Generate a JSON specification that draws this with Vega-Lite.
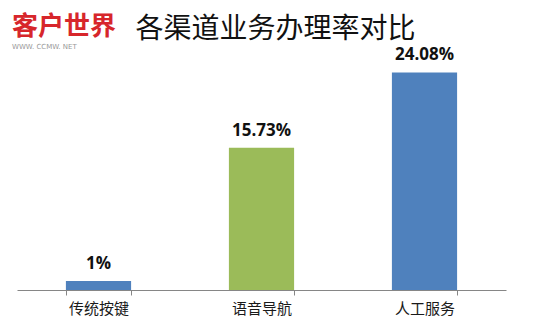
{
  "$schema": "https://vega.github.io/schema/vega-lite/v6.json",
  "width": 489,
  "height": 244,
  "autosize": "none",
  "padding": {"left": 17, "top": 46, "right": 54, "bottom": 42},
  "background": "white",
  "title": {
    "text": "客户世界",
    "subtitle": "WWW. CCMW. NET",
    "anchor": "start",
    "frame": "bounds",
    "dx": -5,
    "offset": -35,
    "font": "Noto Sans CJK SC",
    "fontSize": 26,
    "fontWeight": "bold",
    "color": "#d7262b",
    "subtitleFont": "DejaVu Sans",
    "subtitleFontSize": 7,
    "subtitleColor": "#999999",
    "subtitlePadding": 3
  },
  "data": {
    "values": [
      {"channel": "传统按键", "rate": 0.01},
      {"channel": "语音导航", "rate": 0.1573},
      {"channel": "人工服务", "rate": 0.2408}
    ]
  },
  "encoding": {
    "x": {
      "field": "channel",
      "type": "nominal",
      "sort": null,
      "scale": {"paddingInner": 0.6, "paddingOuter": 0.3}
    },
    "y": {
      "field": "rate",
      "type": "quantitative",
      "scale": {"domain": [0, 0.27], "nice": false},
      "axis": null
    }
  },
  "layer": [
    {
      "mark": {"type": "bar"},
      "encoding": {
        "x": {
          "field": "channel",
          "type": "nominal",
          "sort": null,
          "axis": {
            "title": null,
            "labelAngle": 0,
            "tickBand": "extent",
            "tickSize": 5,
            "tickColor": "#868686",
            "domainColor": "#868686",
            "labelFont": "Noto Sans CJK SC",
            "labelFontSize": 15,
            "labelColor": "#1a1a1a",
            "labelPadding": 6,
            "grid": false
          }
        },
        "color": {
          "field": "channel",
          "type": "nominal",
          "scale": {
            "domain": ["传统按键", "语音导航", "人工服务"],
            "range": ["#4f81bd", "#9bbb59", "#4f81bd"]
          },
          "legend": null
        }
      }
    },
    {
      "mark": {
        "type": "text",
        "baseline": "alphabetic",
        "dy": -12,
        "font": "Open Sans",
        "fontSize": 17,
        "fontWeight": "bold",
        "color": "#111111"
      },
      "encoding": {
        "x": {
          "field": "channel",
          "type": "nominal",
          "sort": null,
          "axis": {
            "orient": "top",
            "title": "各渠道业务办理率对比",
            "labels": false,
            "ticks": false,
            "domain": false,
            "grid": false,
            "titleFont": "Noto Sans CJK SC",
            "titleFontSize": 28,
            "titleFontWeight": "normal",
            "titleColor": "#111111",
            "titlePadding": 3,
            "titleX": 258,
            "titleAlign": "center"
          }
        },
        "text": {"field": "rate", "type": "quantitative", "format": ".2~%"}
      }
    }
  ],
  "resolve": {"axis": {"x": "independent"}},
  "config": {"view": {"stroke": null}}
}
